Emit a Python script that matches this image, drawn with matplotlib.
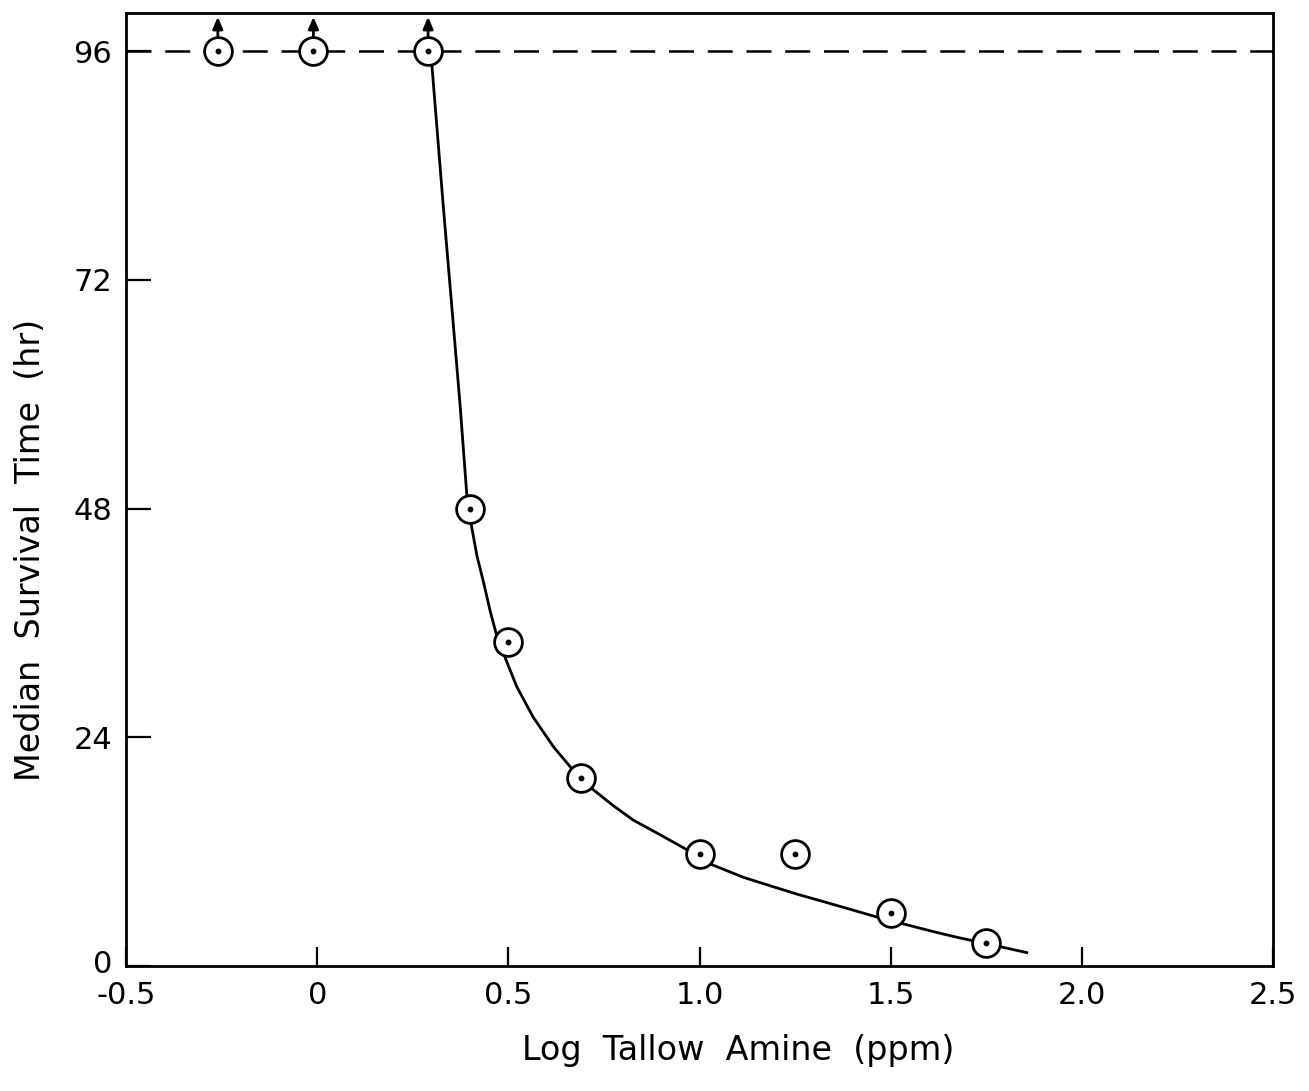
import matplotlib
matplotlib.use('Agg')
import matplotlib.pyplot as plt
import matplotlib.transforms as mtransforms

# 관측값 (log ppm, 시간)
log_conc = [-0.26, -0.01, 0.29, 0.40, 0.50, 0.69, 1.00, 1.25, 1.50, 1.75]
surv_hr = [96, 96, 96, 48, 34, 19.7, 11.8, 11.8, 5.6, 2.4]
# 96시간 이상 생존(화살표 표시)
censored = [True, True, True, False, False, False, False, False, False, False]

# 손으로 그린 곡선
curve_x = [0.29, 0.300, 0.330, 0.352, 0.374, 0.391, 0.402, 0.418, 0.436, 0.452,
           0.468, 0.487, 0.522, 0.565, 0.618, 0.666, 0.695, 0.722, 0.775, 0.827,
           0.900, 0.967, 1.000, 1.028, 1.115, 1.190, 1.254, 1.320, 1.385, 1.467,
           1.525, 1.612, 1.680, 1.750, 1.856]
curve_y = [96, 94.5, 79.6, 69.2, 58.7, 49.6, 46.5, 43.0, 40.1, 37.3,
           34.9, 32.8, 29.3, 26.1, 23.0, 20.7, 19.6, 18.5, 16.8, 15.3,
           13.7, 12.2, 11.6, 10.7, 9.3, 8.35, 7.55, 6.8, 6.05, 5.1,
           4.5, 3.6, 2.95, 2.35, 1.4]

x_ticks = [-0.5, 0, 0.5, 1.0, 1.5, 2.0, 2.5]
x_labels = ['-0.5', '0', '0.5', '1.0', '1.5', '2.0', '2.5']
y_ticks = [0, 24, 48, 72, 96]

fig = plt.figure(figsize=(13.09, 10.91), dpi=100)
ax = fig.add_axes([0.0963, 0.1146, 0.8762, 0.8735])

# 96시간 점선
ax.axhline(96, color='black', lw=1.8, dashes=(10, 5.5), zorder=1)
# 곡선
ax.plot(curve_x, curve_y, color='black', lw=2.0, zorder=2)
# 데이터 점 (원 + 가운데 점)
ax.plot(log_conc, surv_hr, 'o', ms=20, mfc='white', mec='black', mew=2.0, zorder=3)
ax.plot(log_conc, surv_hr, 'o', ms=3.2, color='black', zorder=4)

# 화살표
for x, y, c in zip(log_conc, surv_hr, censored):
    if c:
        ax.annotate('', xy=(x, 99.6), xytext=(x, 97.4),
                    arrowprops=dict(arrowstyle='-|>,head_length=0.7,head_width=0.3',
                                    color='black', lw=2.0, shrinkA=0, shrinkB=0),
                    zorder=5)

ax.set_xlim(-0.5, 2.5)
ax.set_ylim(0, 100)
ax.set_xticks(x_ticks)
ax.set_xticklabels(x_labels)
ax.set_yticks(y_ticks)

for s in ax.spines.values():
    s.set_linewidth(2)
ax.tick_params(direction='in', length=14, width=1.6, labelsize=22, pad=11)
ax.tick_params(axis='y', length=18, pad=10)

# y축 0 라벨을 약간 위로
lab0 = ax.get_yticklabels()[0]
lab0.set_transform(lab0.get_transform() + mtransforms.ScaledTranslation(0, 3 / 72, fig.dpi_scale_trans))

fig.text(0.564, 0.022, 'Log  Tallow  Amine  (ppm)', fontsize=24, ha='center', va='bottom')
fig.text(0.023, 0.496, 'Median  Survival  Time  (hr)', fontsize=24, rotation=90,
         ha='center', va='center')

plt.savefig('out.png', dpi=100)
